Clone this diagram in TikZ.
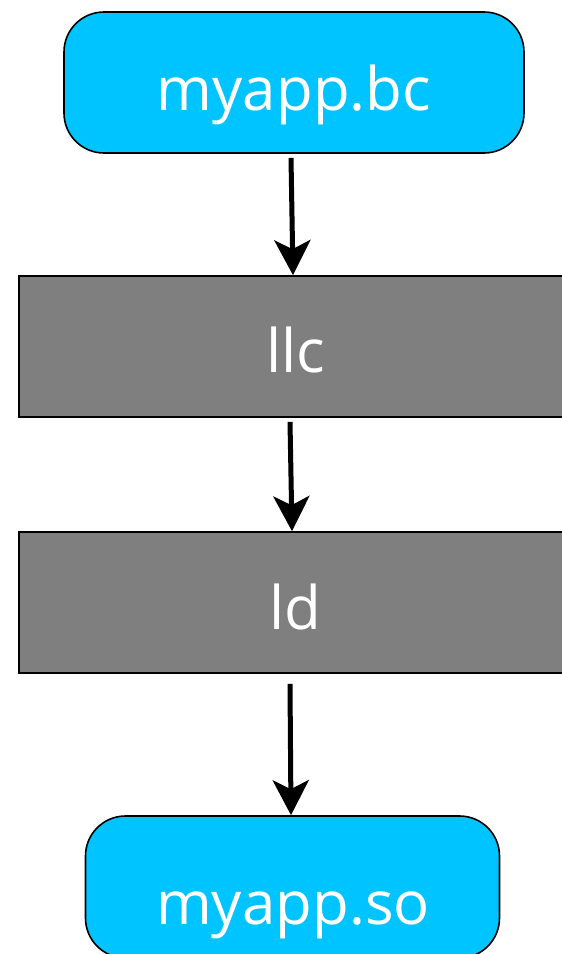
\documentclass[tikz,border=0pt]{standalone}
\usepackage{fontspec}
\setmainfont{Open Sans}
\usetikzlibrary{arrows.meta,calc}
\definecolor{boxcyan}{RGB}{0,196,255}
\definecolor{boxgray}{RGB}{127,127,127}
\begin{document}
\begin{tikzpicture}[x=1pt,y=-1pt,
  termbox/.style={draw=black,line width=1.6pt,fill=boxcyan,rounded corners=40pt,inner sep=0pt},
  toolbox/.style={draw=black,line width=1.6pt,fill=boxgray,inner sep=0pt},
  lbl/.style={text=white,font=\fontsize{60}{60}\selectfont,anchor=base,inner sep=0pt},
  arr/.style={line width=5pt,-{Stealth[length=35pt,width=36pt,inset=9pt]}}]
\useasboundingbox (0,0) rectangle (562,954);
\node[termbox,minimum width=460pt,minimum height=141pt] (src) at (294,82.5) {};
\node[toolbox,minimum width=551pt,minimum height=141pt] (llc) at (294.5,346.5) {};
\node[toolbox,minimum width=551pt,minimum height=141pt] (ld) at (294.5,602.5) {};
\node[termbox,minimum width=414pt,minimum height=142pt] (dst) at (292.5,887) {};
\node[lbl] (t1) at (294,110) {myapp.bc};
\node[lbl] (t2) at (296,372) {llc};
\node[lbl] (t3) at (295,629) {ld};
\node[lbl] (t4) at (293,924) {myapp.so};
\draw[arr] ($(src.south)+(-3,4)$) -- ($(llc.north)+(-1.5,0)$);
\draw[arr] ($(llc.south)+(-4.5,4)$) -- ($(ld.north)+(-2.5,0)$);
\draw[arr] ($(ld.south)+(-4.5,10)$) -- ($(dst.north)+(-1.5,0)$);
\end{tikzpicture}
\end{document}
